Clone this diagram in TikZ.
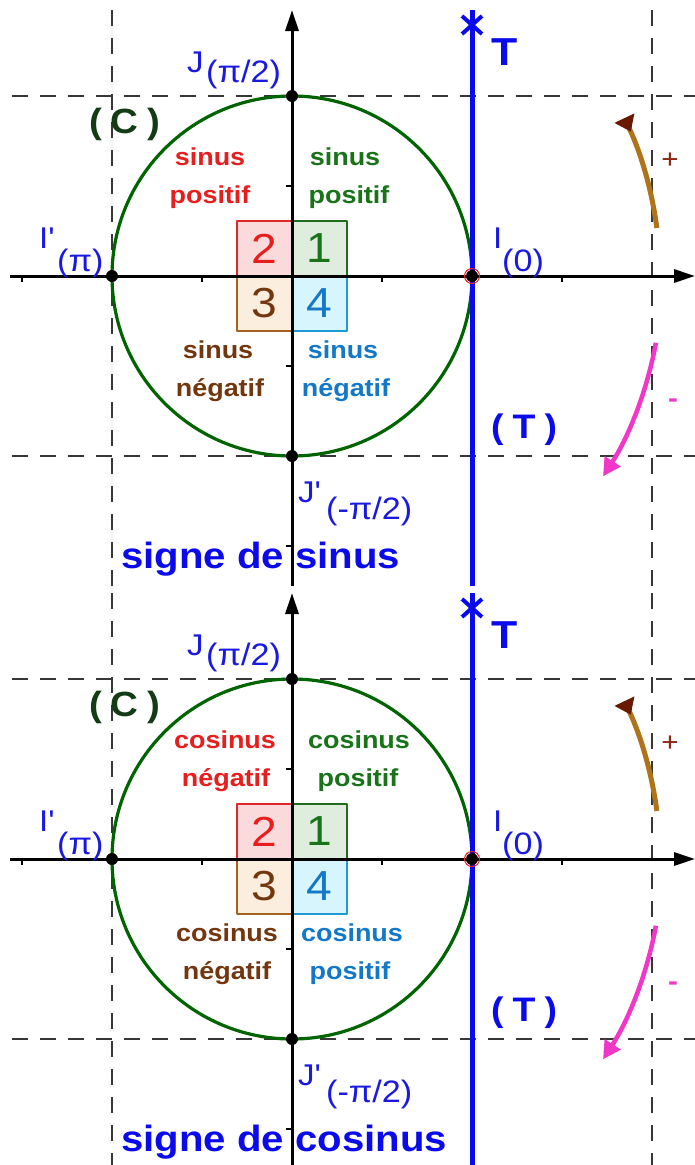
\documentclass[tikz,border=0pt]{standalone}
\usepackage{fontspec}
\setmainfont{Liberation Sans}[FakeStretch=1.1]
\usetikzlibrary{arrows.meta}
\definecolor{circg}{RGB}{0,100,0}
\definecolor{gridc}{RGB}{55,55,55}
\definecolor{tblue}{RGB}{10,10,235}
\definecolor{lblue}{RGB}{25,25,225}
\definecolor{qred}{RGB}{230,30,30}
\definecolor{qgreen}{RGB}{25,115,25}
\definecolor{qbrown}{RGB}{115,55,15}
\definecolor{qblue}{RGB}{20,120,200}
\definecolor{btwod}{RGB}{225,40,40}
\definecolor{btwof}{RGB}{250,218,218}
\definecolor{boned}{RGB}{30,110,30}
\definecolor{bonef}{RGB}{222,237,222}
\definecolor{bthreed}{RGB}{160,100,30}
\definecolor{bthreef}{RGB}{252,238,222}
\definecolor{bfourd}{RGB}{30,155,215}
\definecolor{bfourf}{RGB}{215,245,252}
\definecolor{cdark}{RGB}{20,60,20}
\definecolor{arcbrown}{RGB}{175,115,25}
\definecolor{tipbrown}{RGB}{105,25,0}
\definecolor{plusc}{RGB}{140,40,20}
\definecolor{magc}{RGB}{240,55,200}
\tikzset{
  gridline/.style={draw=gridc, line width=2.8pt, dash pattern=on 16pt off 12pt},
  axisline/.style={draw=black, line width=3pt, -{Triangle[length=21pt,width=13pt]}},
  tickline/.style={draw=black, line width=2.2pt},
  circline/.style={draw=circg, line width=3.2pt},
  tline/.style={draw=tblue, line width=5pt},
  sqbox/.style={line width=2.8pt},
  digit/.style={font=\fontsize{42}{42}\selectfont, inner sep=0pt},
  quad/.style={font=\bfseries\fontsize{24.5}{24.5}\selectfont, inner sep=0pt, anchor=base},
  lbl/.style={font=\fontsize{30}{30}\selectfont, text=lblue, inner sep=0pt, anchor=base west},
  sublbl/.style={font=\fontsize{31}{31}\selectfont, text=lblue, inner sep=0pt, anchor=base west},
  titletext/.style={font=\bfseries\fontsize{36.5}{36.5}\selectfont, text=tblue, inner sep=0pt, anchor=base west},
  dotpt/.style={fill=black},
  plusarc/.style={draw=arcbrown, line width=5pt, -{Triangle[reversed,length=15pt,width=21pt,color=tipbrown]}},
  minusarc/.style={draw=magc, line width=4.5pt, -{Triangle[length=18pt,width=18pt,color=magc]}}
}
\newcommand\panelbase[1]{%
  \coordinate (O) at (292,276);
  \coordinate (I) at (472,276);
  \coordinate (Ip) at (112,276);
  \coordinate (J) at (292,96);
  \coordinate (Jp) at (292,456);
  \coordinate (xl) at (10,276);
  \coordinate (xr) at (695,276);
  \coordinate (yb) at (292,#1);
  \coordinate (yt) at (292,10);
  \coordinate (tb) at (472,#1);
  \coordinate (tt) at (472,10);
  \coordinate (star) at (472,25);
  % dashed guides
  \draw[gridline] (12,96) -- (695,96);
  \draw[gridline] (12,456) -- (695,456);
  \draw[gridline] (112,10) -- (112,#1);
  \draw[gridline] (652,10) -- (652,#1);
  % squares
  \draw[sqbox, draw=btwod, fill=btwof] (237,221) rectangle (292,276);
  \draw[sqbox, draw=boned, fill=bonef] (292,221) rectangle (347,276);
  \draw[sqbox, draw=bthreed, fill=bthreef] (237,276) rectangle (292,331);
  \draw[sqbox, draw=bfourd, fill=bfourf] (292,276) rectangle (347,331);
  \node[digit, text=qred] (d2) at (264.5,248.5) {2};
  \node[digit, text=qgreen] (d1) at (319.5,248.5) {1};
  \node[digit, text=qbrown] (d3) at (264.5,303.5) {3};
  \node[digit, text=qblue] (d4) at (319.5,303.5) {4};
  % circle
  \draw[circline] (O) circle[radius=180];
  % axes
  \draw[axisline] (xl) -- (xr);
  \draw[axisline] (yb) -- (yt);
  \foreach \t in {22,202,382,562} \draw[tickline] (\t,276) -- (\t,282);
  \foreach \t in {186,366,546} \draw[tickline] (292,\t) -- (286,\t);
  % tangent line
  \draw[tline] (tb) -- (tt);
  \draw[draw=tblue, line width=4pt] ([shift={(-10,-9)}]star) -- ([shift={(10,9)}]star);
  \draw[draw=tblue, line width=4pt] ([shift={(-10,9)}]star) -- ([shift={(10,-9)}]star);
  % points
  \draw[draw=qred, line width=1pt] (I) circle[radius=7.5];
  \fill[dotpt] (I) circle[radius=6];
  \fill[dotpt] (Ip) circle[radius=6];
  \fill[dotpt] (J) circle[radius=6];
  \fill[dotpt] (Jp) circle[radius=6];
  % orientation arcs
  \draw[plusarc] (O) ++(-7.5:368) arc[start angle=-7.5, end angle=-25.4, radius=368];
  \draw[minusarc] (O) ++(10.4:370) arc[start angle=10.4, end angle=32.8, radius=370];
  \node[font=\fontsize{27}{27}\selectfont, text=plusc, inner sep=0pt] (plus) at (670,161) {+};
  \node[font=\bfseries\fontsize{27}{27}\selectfont, text=magc, inner sep=0pt] (minus) at (673,403) {-};
  % labels
  \node[lbl] (Jl) at (187,72) {J};
  \node[sublbl] (Js) at (206,82) {(π/2)};
  \node[lbl] (Ipl) at (39,248) {I\textquotesingle};
  \node[sublbl] (Ips) at (57,271) {(π)};
  \node[lbl] (Il) at (493,248) {I};
  \node[sublbl] (Is) at (502,271) {(0)};
  \node[lbl] (Jpl) at (298,502) {J\textquotesingle};
  \node[sublbl] (Jps) at (326,519) {(-π/2)};
  \node[font=\bfseries\fontsize{39}{39}\selectfont, text=tblue, inner sep=0pt, anchor=base west] (Tl) at (491,65) {T};
  \node[font=\bfseries\fontsize{34}{34}\selectfont, text=tblue, inner sep=0pt, anchor=base west] (TTl) at (491,438) {(\hspace{9pt}T\hspace{9pt})};
  \node[font=\bfseries\fontsize{35}{35}\selectfont, text=cdark, inner sep=0pt, anchor=base west] (Cl) at (89,133) {(\hspace{9pt}C\hspace{9pt})};
}
\begin{document}
\begin{tikzpicture}[x=1pt,y=-1pt,line join=round]
\useasboundingbox (0,0) rectangle (695,1165);
\fill[white] (0,0) rectangle (695,1165);
% ---------- top panel: sign of sine ----------
\begin{scope}[name prefix=s-]
  \panelbase{586}
  \node[quad, text=qred] (q2a) at (210,165) {sinus};
  \node[quad, text=qred] (q2b) at (210,203) {positif};
  \node[quad, text=qgreen] (q1a) at (345,165) {sinus};
  \node[quad, text=qgreen] (q1b) at (349,203) {positif};
  \node[quad, text=qbrown] (q3a) at (218,358) {sinus};
  \node[quad, text=qbrown] (q3b) at (220,396) {négatif};
  \node[quad, text=qblue] (q4a) at (343,358) {sinus};
  \node[quad, text=qblue] (q4b) at (346,396) {négatif};
  \node[titletext] (title) at (121,568) {signe de sinus};
\end{scope}
% ---------- bottom panel: sign of cosine ----------
\begin{scope}[shift={(0,583)}, name prefix=c-]
  \panelbase{582}
  \node[quad, text=qred] (q2a) at (225,165) {cosinus};
  \node[quad, text=qred] (q2b) at (226,203) {négatif};
  \node[quad, text=qgreen] (q1a) at (359,165) {cosinus};
  \node[quad, text=qgreen] (q1b) at (358,203) {positif};
  \node[quad, text=qbrown] (q3a) at (227,358) {cosinus};
  \node[quad, text=qbrown] (q3b) at (227,396) {négatif};
  \node[quad, text=qblue] (q4a) at (352,358) {cosinus};
  \node[quad, text=qblue] (q4b) at (350,396) {positif};
  \node[titletext] (title) at (121,568) {signe de cosinus};
\end{scope}
\end{tikzpicture}
\end{document}
